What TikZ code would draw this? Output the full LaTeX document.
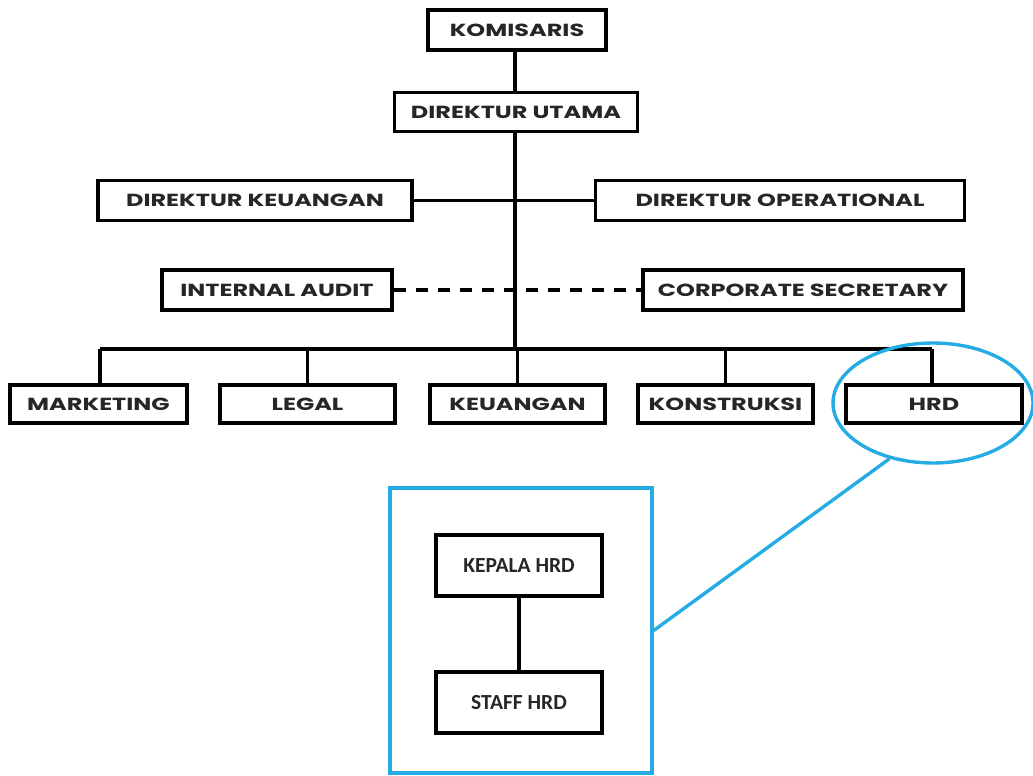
\documentclass[tikz,border=0pt]{standalone}
\usepackage{fontspec}
\usetikzlibrary{shapes.geometric}
\setmainfont{Poppins}[FakeStretch=1.37]
\newfontfamily\inner{Carlito}
\definecolor{zoomblue}{RGB}{38,172,228}
\begin{document}
\begin{tikzpicture}[x=1pt,y=-1pt,
  box/.style={draw=black, line width=3.2pt, fill=white, inner sep=0pt, minimum height=40pt, font=\fontsize{17.5}{17.5}\selectfont\bfseries, text=black!85},
  smallbox/.style={draw=black, line width=3.4pt, fill=white, inner sep=0pt, minimum width=166pt, minimum height=61pt, font=\inner\fontsize{21.5}{21.5}\selectfont\bfseries, text=black!85},
  link/.style={draw=black, line width=3.2pt},
  zoomline/.style={draw=zoomblue, line width=3.4pt}]
\useasboundingbox (0,0) rectangle (1033,776);
% top
\node[box, minimum width=178pt] (kom) at (517,30) {KOMISARIS};
\node[box, minimum width=243pt, minimum height=39pt] (dirut) at (516,112) {DIREKTUR UTAMA};
\node[box, minimum width=314pt] (dk) at (255,200.5) {DIREKTUR KEUANGAN};
\node[box, minimum width=369pt] (dop) at (780,200.5) {DIREKTUR OPERATIONAL};
\node[box, minimum width=230pt] (ia) at (277,290) {INTERNAL AUDIT};
\node[box, minimum width=320pt] (cs) at (803,290) {CORPORATE SECRETARY};
% bottom row
\node[box, minimum width=177pt, minimum height=38pt] (mkt) at (98.5,404) {MARKETING};
\node[box, minimum width=175pt, minimum height=38pt] (legal) at (307.5,404) {LEGAL};
\node[box, minimum width=175pt, minimum height=38pt] (keu) at (517.5,404) {KEUANGAN};
\node[box, minimum width=175pt, minimum height=38pt] (kon) at (725.5,404) {KONSTRUKSI};
\node[box, minimum width=176pt, minimum height=38pt] (hrd) at (934,404) {HRD};
\coordinate (busL) at (100,349);
\coordinate (busR) at (932,349);
\coordinate (busM) at (515,349);
% connectors
\draw[link] (kom.south -| busM) -- (dirut.north -| busM);
\draw[link] (dirut.south -| busM) -- (busM);
\draw[link] (dk.east) -- (dop.west);
\draw[link, dash pattern=on 12pt off 10pt] (ia.east) -- (cs.west);
\draw[link] (busL) -- (busR);
\draw[link] (busL) -- (busL |- mkt.north);
\draw[link] (legal.north |- busM) -- (legal.north);
\draw[link] (keu.north |- busM) -- (keu.north);
\draw[link] (kon.north |- busM) -- (kon.north);
\draw[link] (busR) -- (busR |- hrd.north);
% zoom ellipse
\node[draw=zoomblue, line width=3.4pt, ellipse, minimum width=200pt, minimum height=120pt] (ell) at (933,403) {};
% zoomed square
\node[draw=zoomblue, line width=3.4pt, minimum width=262pt, minimum height=285pt, inner sep=0pt] (sq) at (521,630.5) {};
\draw[zoomline] (ell.-128) -- (sq.east);
\node[smallbox] (kep) at (519,565.5) {KEPALA HRD};
\node[smallbox] (staff) at (519,702.5) {STAFF HRD};
\draw[link, line width=3.2pt] (kep.south) -- (staff.north);
\end{tikzpicture}
\end{document}
